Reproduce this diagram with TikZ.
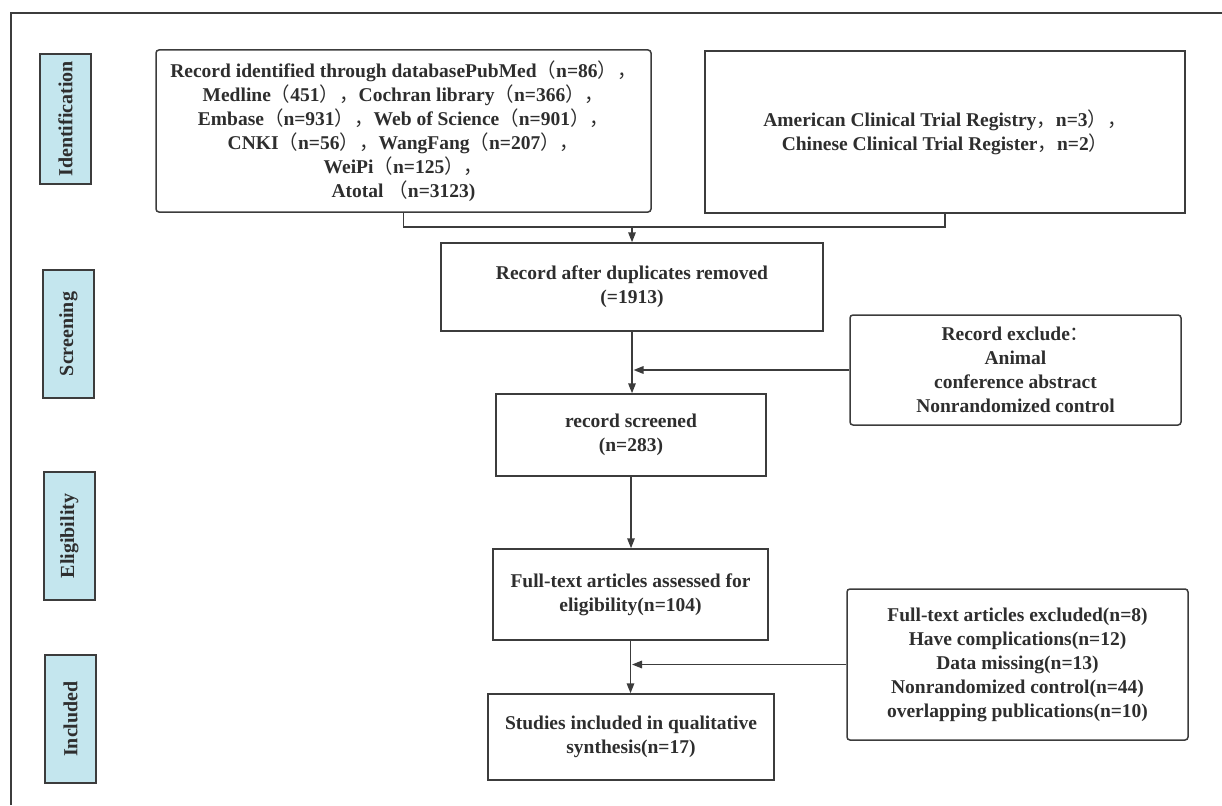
\documentclass[tikz,border=0pt]{standalone}
\usepackage{fontspec}
\setmainfont{Liberation Serif}
\newfontfamily\cjk{Noto Sans CJK SC}
\usetikzlibrary{arrows.meta}
\newcommand\LP{{\cjk\mdseries （}}
\newcommand\RP{{\cjk\mdseries ）}}
\newcommand\CM{{\cjk\mdseries ，}}
\newcommand\CO{{\cjk\mdseries ：}}
\definecolor{linec}{HTML}{3C3C3C}
\definecolor{textc}{HTML}{2E2E2E}
\definecolor{sidefill}{HTML}{C4E6EE}
\tikzset{
  box/.style={draw=linec, line width=1.5pt, text=textc, align=center, inner sep=0pt,
    font=\fontsize{19.5}{24}\selectfont\bfseries},
  rbox/.style={box, rounded corners=3pt},
  side/.style={draw=linec, line width=1.5pt, fill=sidefill, text=textc, inner sep=0pt,
    minimum width=51pt, minimum height=128pt},
  sidetext/.style={rotate=90, text=textc, font=\fontsize{20}{24}\selectfont\bfseries},
  conn/.style={draw=linec, line width=1.6pt},
  arr/.style={conn, -{Triangle[length=10pt,width=7.5pt]}}
}
\begin{document}
\begin{tikzpicture}[x=1pt,y=-1pt]
\useasboundingbox (0,0) rectangle (1222,805);
\fill[white] (0,0) rectangle (1222,805);
% outer frame (top and left)
\draw[draw=linec, line width=1.2pt] (11,805) -- (11,13) -- (1222,13);

% side labels
\node[side, minimum height=130pt] (sid) at (65.5,119) {};
\node[sidetext] at (sid.center) {Identification};
\node[side] (sscr) at (68.5,334) {};
\node[sidetext] at (sscr.center) {Screening};
\node[side] (selig) at (69.5,536) {};
\node[sidetext] at (selig.center) {Eligibility};
\node[side] (sinc) at (70.5,719) {};
\node[sidetext] at (sinc.center) {Included};

% identification boxes
\node[rbox, minimum width=495pt, minimum height=162pt] (lb) at (403.5,131) {%
Record identified through databasePubMed\LP n=86\RP\CM\\
Medline\LP 451\RP\CM Cochran library\LP n=366\RP\CM\\
Embase\LP n=931\RP\CM Web of Science\LP n=901\RP\CM\\
CNKI\LP n=56\RP\CM WangFang\LP n=207\RP\CM\\
WeiPi\LP n=125\RP\CM\\
Atotal \LP n=3123)};
\node[box, minimum width=480pt, minimum height=162pt] (rb) at (945,132) {%
American Clinical Trial Registry\CM n=3\RP\CM\\
Chinese Clinical Trial Register\CM n=2\RP};

% main flow
\node[box, minimum width=382pt, minimum height=88pt] (dup) at (632,287) {Record after duplicates removed\\(=1913)};
\node[box, minimum width=270pt, minimum height=82pt] (scr) at (631,435) {record screened\\(n=283)};
\node[box, minimum width=275pt, minimum height=91pt] (elig) at (630.5,594.5) {Full-text articles assessed for\\eligibility(n=104)};
\node[box, minimum width=286pt, minimum height=86pt] (stud) at (631,737) {Studies included in qualitative\\synthesis(n=17)};

% exclusion boxes
\node[rbox, minimum width=331pt, minimum height=110pt] (ex1) at (1015.5,370) {%
Record exclude\CO\\Animal\\conference abstract\\Nonrandomized control};
\node[rbox, minimum width=341pt, minimum height=151pt] (ex2) at (1017.5,664.5) {%
Full-text articles excluded(n=8)\\Have complications(n=12)\\Data missing(n=13)\\Nonrandomized control(n=44)\\overlapping publications(n=10)};

% connectors
\coordinate (jn) at (632,227);
\draw[conn] (lb.south) |- (jn) -| (rb.south);
\draw[arr] (jn) -- (dup.north);
\draw[arr] (dup.south) -- (dup.south |- scr.north);
\draw[arr] (ex1.west) -- ([xshift=1.5pt]ex1.west -| dup.south);
\draw[arr] (scr.south) -- (scr.south |- elig.north);
\draw[arr] (elig.south) -- (elig.south |- stud.north);
\draw[arr] (ex2.west) -- ([xshift=1.5pt]ex2.west -| elig.south);
\end{tikzpicture}
\end{document}
